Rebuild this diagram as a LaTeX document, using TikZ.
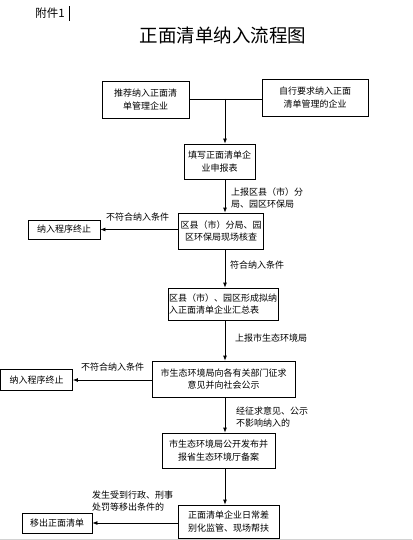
\documentclass[tikz,border=0pt]{standalone}
\usepackage{fontspec}
\setmainfont{Noto Sans CJK SC}
\usetikzlibrary{arrows.meta}

\tikzset{
  box/.style={draw, line width=0.8pt, align=center, inner sep=1pt,
    font=\fontsize{9}{12.5}\selectfont},
  lbl/.style={align=left, inner sep=0pt, font=\fontsize{9}{12.5}\selectfont},
  arr/.style={-{Latex[length=5pt,width=4pt]}, line width=0.8pt}
}

\begin{document}
\begin{tikzpicture}[x=1pt, y=-1pt]
    \useasboundingbox (0,0) rectangle (412,540);

    % En-tête
    \node[inner sep=0pt, font=\fontsize{11.5}{13}\selectfont] (fujian) at (50,13) {附件1};
    \draw[line width=1.8pt] (69.5,6.5) -- (69.5,21);
    \node[inner sep=0pt, font=\fontsize{18.5}{20}\selectfont] (titre) at (223,35) {正面清单纳入流程图};

    % Boîtes du haut
    \node[box, minimum width=87pt, minimum height=37pt] (tuijian) at (145.5,99.5) {推荐纳入正面清\\单管理企业};
    \node[box, minimum width=106pt, minimum height=37pt] (zixing) at (315,97.5) {自行要求纳入正面\\清单管理的企业};
    \coordinate (hui) at (225,99);

    % Colonne principale
    \node[box, minimum width=71pt, minimum height=35pt] (tianxie) at (219.5,161.5) {填写正面清单企\\业申报表};
    \node[box, minimum width=85pt, minimum height=36pt] (hecha) at (221,231) {区县（市）分局、园\\区环保局现场核查};
    \node[box, minimum width=110pt, minimum height=32pt, align=left] (huizong) at (223,304) {区县（市）、园区形成拟纳\\入正面清单企业汇总表};
    \node[box, minimum width=143pt, minimum height=36pt] (zhengqiu) at (223.5,379) {市生态环境局向各有关部门征求\\意见并向社会公示};
    \node[box, minimum width=113pt, minimum height=35pt] (gongkai) at (218.5,450.5) {市生态环境局公开发布并\\报省生态环境厅备案};
    \node[box, minimum width=101pt, minimum height=33pt] (richang) at (228.5,521.5) {正面清单企业日常差\\别化监管、现场帮扶};

    % Boîtes de sortie à gauche
    \node[box, minimum width=72pt, minimum height=19pt] (zhongzhiA) at (64,229.5) {纳入程序终止};
    \node[box, minimum width=72pt, minimum height=21pt] (zhongzhiB) at (36.5,380) {纳入程序终止};
    \node[box, minimum width=70pt, minimum height=20pt] (yichu) at (57,523) {移出正面清单};

    % Liaisons
    \draw[line width=0.8pt] (tuijian.east |- hui) -- (zixing.west |- hui);
    \draw[arr] (hui) -- (hui |- tianxie.north);
    \draw[arr] (tianxie.south -| hui) -- (hecha.north -| hui);
    \draw[arr] (hecha.west |- zhongzhiA) -- (zhongzhiA.east);
    \draw[arr] (hecha.south -| hui) -- (huizong.north -| hui);
    \draw[arr] (huizong.south -| hui) -- (zhengqiu.north -| hui);
    \draw[arr] (zhengqiu.west |- zhongzhiB) -- (zhongzhiB.east);
    \draw[arr] (zhengqiu.south -| hui) -- (gongkai.north -| hui);
    \draw[arr] (gongkai.south -| hui) -- (richang.north -| hui);
    \draw[arr] (richang.west |- yichu) -- (yichu.east);

    % Étiquettes
    \node[lbl, anchor=west] (l1) at (231,198) {上报区县（市）分\\局、园区环保局};
    \node[lbl, anchor=west] (l2) at (106,217) {不符合纳入条件};
    \node[lbl, anchor=west] (l3) at (230,265) {符合纳入条件};
    \node[lbl, anchor=west] (l4) at (235,338) {上报市生态环境局};
    \node[lbl, anchor=west] (l5) at (81,367) {不符合纳入条件};
    \node[lbl, anchor=west] (l6) at (236,417) {经征求意见、公示\\不影响纳入的};
    \node[lbl, anchor=west] (l7) at (92,501) {发生受到行政、刑事\\处罚等移出条件的};

    % Bord de page
    \draw[gray!35] (0,539) -- (412,539);
\end{tikzpicture}
\end{document}
